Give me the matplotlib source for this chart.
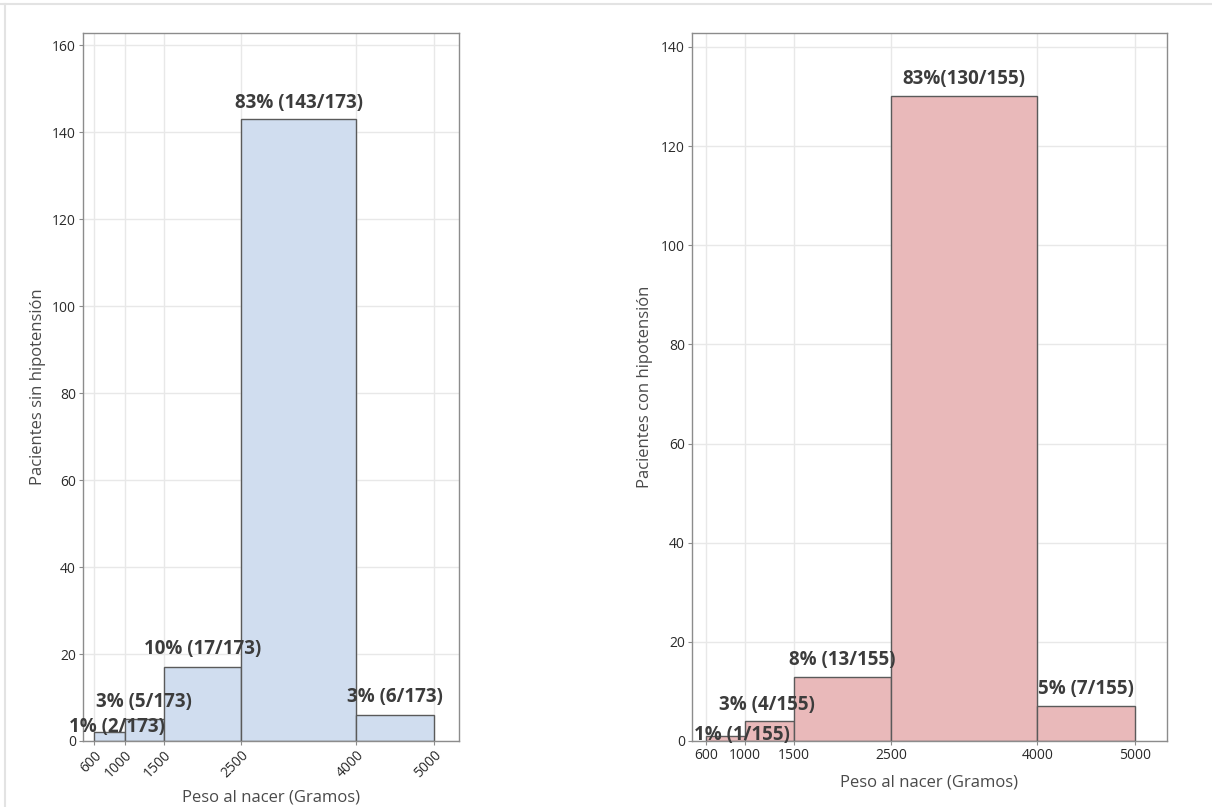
import numpy as np
import matplotlib
matplotlib.use('Agg')
import matplotlib.pyplot as plt
from matplotlib.lines import Line2D

plt.rcParams['font.family'] = ['Open Sans', 'DejaVu Sans']

# datos: intervalos de peso al nacer (gramos) y pacientes por intervalo
edges = [600, 1000, 1500, 2500, 4000, 5000]
sin_hipo = [2, 5, 17, 143, 6]
con_hipo = [1, 4, 13, 130, 7]
sin_labels = ['1% (2/173)', '3% (5/173)', '10% (17/173)', '83% (143/173)', '3% (6/173)']
con_labels = ['1% (1/155)', '3% (4/155)', '8% (13/155)', '83%(130/155)', '5% (7/155)']
xticks = [600, 1000, 1500, 2500, 4000, 5000]

W, H = 1212, 807
fig = plt.figure(figsize=(W / 100, H / 100), dpi=100)

# posición de las etiquetas respecto al borde superior de cada barra (píxeles)
off_sin = [(7, 5), (0, 17.5), (0, 18.5), (0, 16), (0, 18)]
off_con = [(16, 1.5), (-3, 16), (0, 17), (0, 17), (0, 17)]


def panel(rect, counts, labels, offsets, color, ymax, ylabel, rot, ylab_x, xlab_y):
    ax = fig.add_axes(rect)
    e = np.array(edges)
    ax.bar(e[:-1], counts, width=np.diff(e), align='edge', color=color,
           edgecolor='#5a5a5a', linewidth=1.0, zorder=2)
    for x0, w, c, t, (dx, dy) in zip(e[:-1], np.diff(e), counts, labels, offsets):
        ax.annotate(t, (x0 + w / 2, c), xytext=(dx, dy), textcoords='offset pixels',
                    ha='center', va='center', fontsize=13.5, fontweight='bold',
                    color='#3c3c3c', zorder=3)
    ax.set_xlim(455, 5330)
    ax.set_ylim(0, ymax)
    ax.set_xticks(xticks)
    ax.set_yticks(np.arange(0, ymax, 20))
    ax.set_axisbelow(True)
    ax.grid(True, color='#e8e8e8', linewidth=1.0)
    for s in ax.spines.values():
        s.set_color('#8c8c8c')
        s.set_linewidth(1.0)
    ax.tick_params(length=3, color='#8c8c8c', labelsize=10, labelcolor='#2a2a2a', pad=2)
    if rot:
        plt.setp(ax.get_xticklabels(), rotation=45, ha='right', va='top',
                 rotation_mode='anchor')
    ax.set_ylabel(ylabel, fontsize=12, color='#4a4a4a', va='center')
    ax.yaxis.set_label_coords(ylab_x, 0.5)
    ax.set_xlabel('Peso al nacer (Gramos)', fontsize=12, color='#4a4a4a', va='center')
    ax.xaxis.set_label_coords(0.5, xlab_y)
    return ax


bottom = 1 - 741 / H
top = 1 - 33 / H
panel([83 / W, bottom, (459 - 83) / W, top - bottom], sin_hipo, sin_labels, off_sin,
      '#d0ddef', 162.8, 'Pacientes sin hipotensión', True, -0.12, -0.08)
panel([692 / W, bottom, (1167 - 692) / W, top - bottom], con_hipo, con_labels, off_con,
      '#e9b9ba', 142.8, 'Pacientes con hipotensión', False, -0.099, -0.058)

# marco gris claro arriba e izquierda
fig.add_artist(Line2D([0, 1], [1 - 4 / H, 1 - 4 / H], transform=fig.transFigure,
                      color='#e3e3e3', linewidth=1.5))
fig.add_artist(Line2D([5 / W, 5 / W], [0, 1 - 4 / H], transform=fig.transFigure,
                      color='#e3e3e3', linewidth=1.5))

fig.savefig('out.png', dpi=100)
